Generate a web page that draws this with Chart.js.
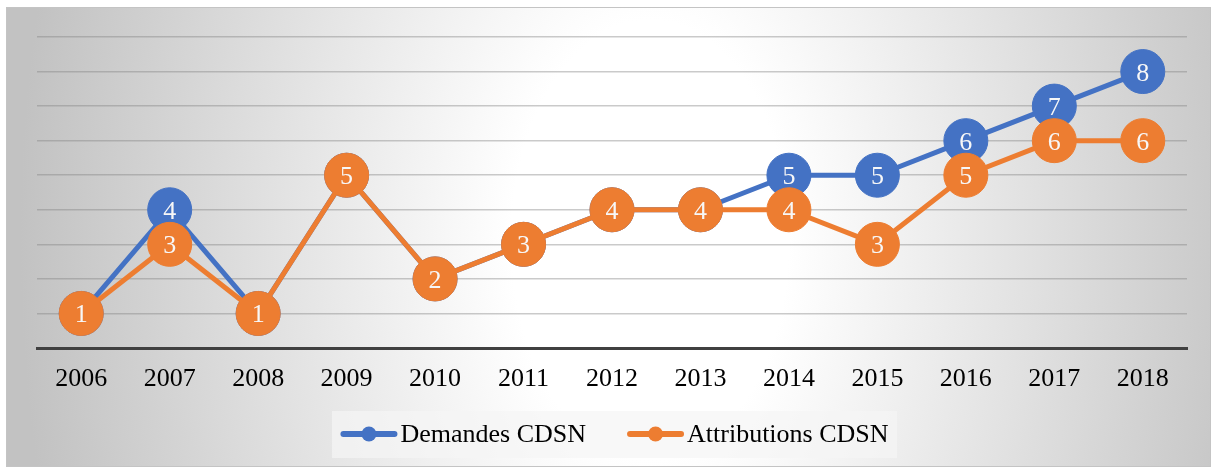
<!DOCTYPE html>
<html>
<head>
<meta charset="utf-8">
<title>Demandes et attributions CDSN</title>
<script src="https://cdn.jsdelivr.net/npm/chart.js@4.4.1/dist/chart.umd.min.js"></script>
<style>
  html, body { margin: 0; padding: 0; background: #ffffff; }
  #wrap { width: 1213px; height: 468px; }
</style>
</head>
<body>
<div id="wrap"><canvas id="c" width="1213" height="468"></canvas></div>
<script>
// Years on the category axis
const years = ['2006', '2007', '2008', '2009', '2010', '2011', '2012',
               '2013', '2014', '2015', '2016', '2017', '2018'];

// Number of CDSN requests per year
const demandes = [1, 4, 1, 5, 2, 3, 4, 4, 5, 5, 6, 7, 8];

// Number of CDSN awards per year
const attributions = [1, 3, 1, 5, 2, 3, 4, 4, 4, 3, 5, 6, 6];

// Value range of the vertical axis
const yMin = 0;
const yMax = 9;

const BLUE = '#4472C4';
const ORANGE = '#ED7D31';
const SERIF = '"Liberation Serif", "Times New Roman", "DejaVu Serif", serif';

// Framed panel with a soft white-centred radial shading
const panelBackground = {
  id: 'panelBackground',
  beforeDraw(chart) {
    const ctx = chart.ctx;
    const fx = 6, fy = 7, fw = 1205, fh = 460;
    ctx.save();
    ctx.fillStyle = '#ffffff';
    ctx.fillRect(0, 0, chart.width, chart.height);
    ctx.beginPath();
    ctx.rect(fx, fy, fw, fh);
    ctx.clip();
    // elliptical gradient: scale the context so a circular gradient stretches
    const cx = 650, cy = 240, rx = 630, ry = 1000;
    ctx.translate(cx, cy);
    ctx.scale(rx / ry, 1);
    const g = ctx.createRadialGradient(0, 0, 0, 0, 0, ry);
    g.addColorStop(0, '#ffffff');
    g.addColorStop(0.22, '#ffffff');
    g.addColorStop(1, '#c2c2c2');
    ctx.fillStyle = g;
    ctx.fillRect(-cx * ry / rx - 10, -cy - 10, chart.width * ry / rx + 20, chart.height + 20);
    ctx.restore();
    ctx.save();
    ctx.strokeStyle = '#c4c4c4';
    ctx.lineWidth = 1;
    ctx.strokeRect(fx + 0.5, fy + 0.5, fw - 1, fh - 1);
    ctx.restore();
  }
};

// White value labels centred in each marker, drawn right after their own series
const pointValues = {
  id: 'pointValues',
  afterDatasetDraw(chart, args) {
    const ctx = chart.ctx;
    const meta = args.meta;
    const values = chart.data.datasets[args.index].data;
    ctx.save();
    ctx.fillStyle = '#f7f7f7';
    ctx.font = '26px ' + SERIF;
    ctx.textAlign = 'center';
    ctx.textBaseline = 'alphabetic';
    meta.data.forEach((pt, i) => {
      ctx.fillText(String(values[i]), pt.x, pt.y + 9);
    });
    ctx.restore();
  }
};

// Legend below the axis: line-with-marker sample followed by the series name
const lineLegend = {
  id: 'lineLegend',
  afterDraw(chart) {
    const ctx = chart.ctx;
    const sets = chart.data.datasets;
    const sampleW = 57, gap = 3, itemGap = 41;
    const lineY = 434, textY = 442;
    ctx.save();
    // pale legend panel
    ctx.fillStyle = 'rgba(245,245,245,0.7)';
    ctx.fillRect(332, 411, 565, 47);
    ctx.font = '26px ' + SERIF;
    const widths = sets.map(d => ctx.measureText(d.label).width);
    let total = 0;
    widths.forEach((w, i) => { total += sampleW + gap + w + (i ? itemGap : 0); });
    let x = 614.5 - total / 2;
    sets.forEach((d, i) => {
      const col = d.borderColor;
      ctx.strokeStyle = col;
      ctx.lineWidth = 6;
      ctx.lineCap = 'round';
      ctx.beginPath();
      ctx.moveTo(x + 3, lineY);
      ctx.lineTo(x + sampleW - 3, lineY);
      ctx.stroke();
      ctx.fillStyle = col;
      ctx.beginPath();
      ctx.arc(x + sampleW / 2, lineY, 7.5, 0, Math.PI * 2);
      ctx.fill();
      ctx.fillStyle = '#000000';
      ctx.textAlign = 'left';
      ctx.textBaseline = 'alphabetic';
      ctx.fillText(d.label, x + sampleW + gap, textY);
      x += sampleW + gap + widths[i] + itemGap;
    });
    ctx.restore();
  }
};

const seriesStyle = (color) => ({
  borderColor: color,
  backgroundColor: color,
  borderWidth: 5,
  pointRadius: 22,
  pointHoverRadius: 22,
  pointBackgroundColor: color,
  pointBorderColor: color,
  pointBorderWidth: 1,
  borderJoinStyle: 'round',
  borderCapStyle: 'round',
  tension: 0,
  clip: false
});

new Chart(document.getElementById('c'), {
  type: 'line',
  data: {
    labels: years,
    datasets: [
      Object.assign({ label: 'Demandes CDSN', data: demandes, order: 1 }, seriesStyle(BLUE)),
      Object.assign({ label: 'Attributions CDSN', data: attributions, order: 0 }, seriesStyle(ORANGE))
    ]
  },
  options: {
    responsive: false,
    animation: false,
    devicePixelRatio: 1,
    layout: { padding: { left: 37, right: 26, top: 37, bottom: 0 } },
    plugins: {
      legend: { display: false },
      tooltip: { enabled: false },
      title: { display: false }
    },
    scales: {
      x: {
        offset: true,
        grid: { display: false, drawTicks: false },
        border: { display: true, color: '#404040', width: 3 },
        ticks: {
          color: '#000000',
          font: { family: SERIF, size: 26 },
          padding: 16,
          maxRotation: 0,
          autoSkip: false
        },
        afterFit(scale) { scale.height = 120; }
      },
      y: {
        min: yMin,
        max: yMax,
        ticks: { display: false, stepSize: 1 },
        border: { display: false },
        grid: {
          drawTicks: false,
          lineWidth: 1.5,
          color: (c) => (c.tick && c.tick.value === 0) ? 'rgba(0,0,0,0)' : 'rgba(128,128,128,0.42)'
        },
        afterFit(scale) { scale.width = 0; }
      }
    }
  },
  plugins: [panelBackground, pointValues, lineLegend]
});
</script>
</body>
</html>
